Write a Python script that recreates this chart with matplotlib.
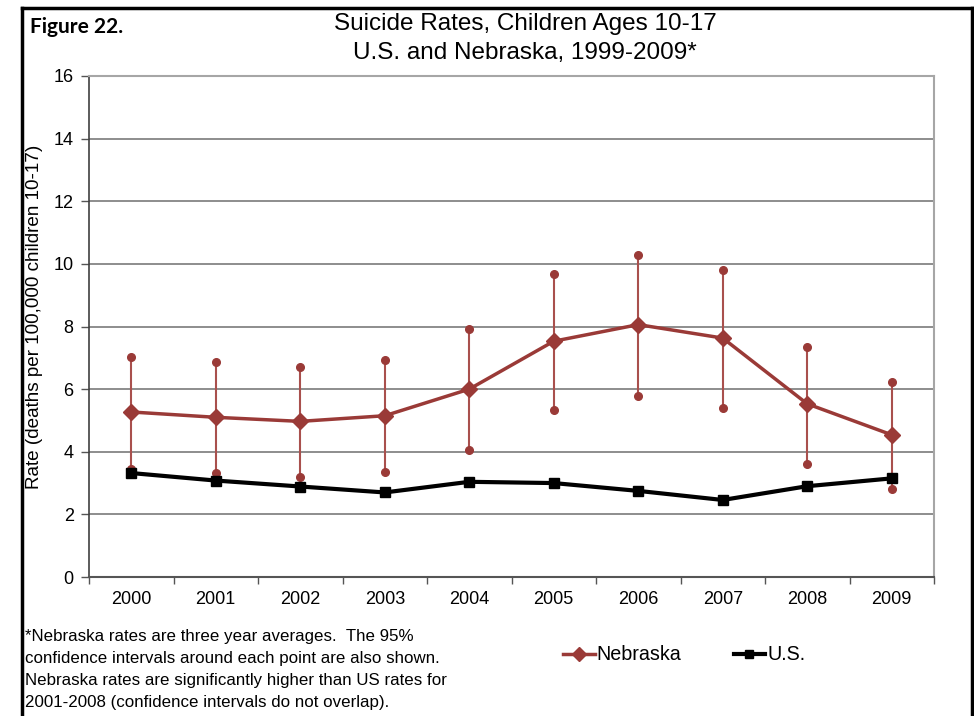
import matplotlib
matplotlib.use("Agg")
import matplotlib.pyplot as plt
from matplotlib.lines import Line2D

years = ["2000", "2001", "2002", "2003", "2004", "2005", "2006", "2007", "2008", "2009"]
nebraska = [5.27, 5.10, 4.97, 5.15, 6.00, 7.53, 8.06, 7.63, 5.53, 4.54]
nebraska_upper = [7.02, 6.86, 6.70, 6.92, 7.93, 9.67, 10.28, 9.80, 7.36, 6.22]
nebraska_lower = [3.45, 3.32, 3.20, 3.36, 4.06, 5.33, 5.79, 5.41, 3.62, 2.82]
us = [3.32, 3.08, 2.89, 2.70, 3.04, 3.00, 2.75, 2.46, 2.90, 3.15]
yticks = [0, 2, 4, 6, 8, 10, 12, 14, 16]

W, H = 974, 716
fig = plt.figure(figsize=(W / 100, H / 100), dpi=100)
fig.patch.set_facecolor("white")

def fx(px):
    return px / W

def fy(py):
    return 1 - py / H

arial = ["Liberation Sans", "DejaVu Sans"]

# figure border
fig.add_artist(Line2D([fx(22), fx(22)], [0, fy(8)], color="black", lw=2.5, transform=fig.transFigure))
fig.add_artist(Line2D([fx(22), fx(972)], [fy(8), fy(8)], color="black", lw=2.5, transform=fig.transFigure))
fig.add_artist(Line2D([fx(972), fx(972)], [fy(8), 0], color="black", lw=2.5, transform=fig.transFigure))

ax = fig.add_axes([fx(89), fy(577), fx(934) - fx(89), (577 - 76) / H])
x = list(range(len(years)))
red = "#9A3A37"

# error bars
ax.vlines(x, nebraska_lower, nebraska_upper, color="#A9504D", lw=1.5, zorder=3)
ax.plot(x, nebraska_upper, linestyle="none", marker="o", ms=5.5, color=red, mec=red, zorder=3)
ax.plot(x, nebraska_lower, linestyle="none", marker="o", ms=5.5, color=red, mec=red, zorder=3)

ax.plot(x, nebraska, color=red, lw=2.5, marker="D", ms=8, mec=red, zorder=4)
ax.plot(x, us, color="black", lw=3, marker="s", ms=7, zorder=5)

ax.set_xlim(-0.5, len(years) - 0.5)
ax.set_ylim(0, 16)
ax.set_yticks(yticks)
ax.set_yticklabels([str(t) for t in yticks], fontsize=13, family=arial)
ax.yaxis.grid(True, color="#7a7a7a", lw=1.2)
ax.set_axisbelow(True)

ax.set_xticks(x)
ax.set_xticklabels(years, fontsize=13, family=arial)
ax.set_xticks([i - 0.5 for i in range(len(years) + 1)], minor=True)
ax.tick_params(axis="x", which="major", length=0, pad=10)
ax.tick_params(axis="x", which="minor", length=5, direction="out", color="#555555", width=1)
ax.tick_params(axis="y", length=6, direction="out", color="#555555", width=1, pad=5)

for side in ["top", "right"]:
    ax.spines[side].set_color("#a6a6a6")
    ax.spines[side].set_linewidth(1.5)
ax.spines["left"].set_color("#404040")
ax.spines["bottom"].set_color("#555555")
ax.spines["left"].set_linewidth(1.2)
ax.spines["bottom"].set_linewidth(1.5)

ax.set_ylabel("Rate (deaths per 100,000 children 10-17)", fontsize=13.6, family=arial)
ax.yaxis.set_label_coords((35 - 89) / 845, (577 - 317) / 501)
ax.yaxis.label.set_va("center")

fig.text(fx(30), fy(27), "Figure 22.", fontsize=15, fontweight="bold", family=["Lato", "DejaVu Sans"], va="center", ha="left")
fig.text(fx(525), fy(24), "Suicide Rates, Children Ages 10-17", fontsize=17.5, family=arial, va="center", ha="center")
fig.text(fx(525), fy(53), "U.S. and Nebraska, 1999-2009*", fontsize=17.5, family=arial, va="center", ha="center")

foot = ["*Nebraska rates are three year averages.  The 95%",
        "confidence intervals around each point are also shown.",
        "Nebraska rates are significantly higher than US rates for",
        "2001-2008 (confidence intervals do not overlap)."]
for i, line in enumerate(foot):
    fig.text(fx(25), fy(637 + 22 * i), line, fontsize=12.2, family=arial, va="center", ha="left")

h1 = Line2D([], [], color=red, lw=2.5, marker="D", ms=7)
h2 = Line2D([], [], color="black", lw=3, marker="s", ms=6)
fig.legend([h1, h2], ["Nebraska", "U.S."], loc="center left", bbox_to_anchor=(fx(563), fy(655)),
           ncol=2, frameon=False, prop={"family": arial, "size": 14.2},
           handlelength=1.6, handletextpad=0.1, columnspacing=2.65, borderaxespad=0, borderpad=0)

fig.savefig("out.png", dpi=100)
